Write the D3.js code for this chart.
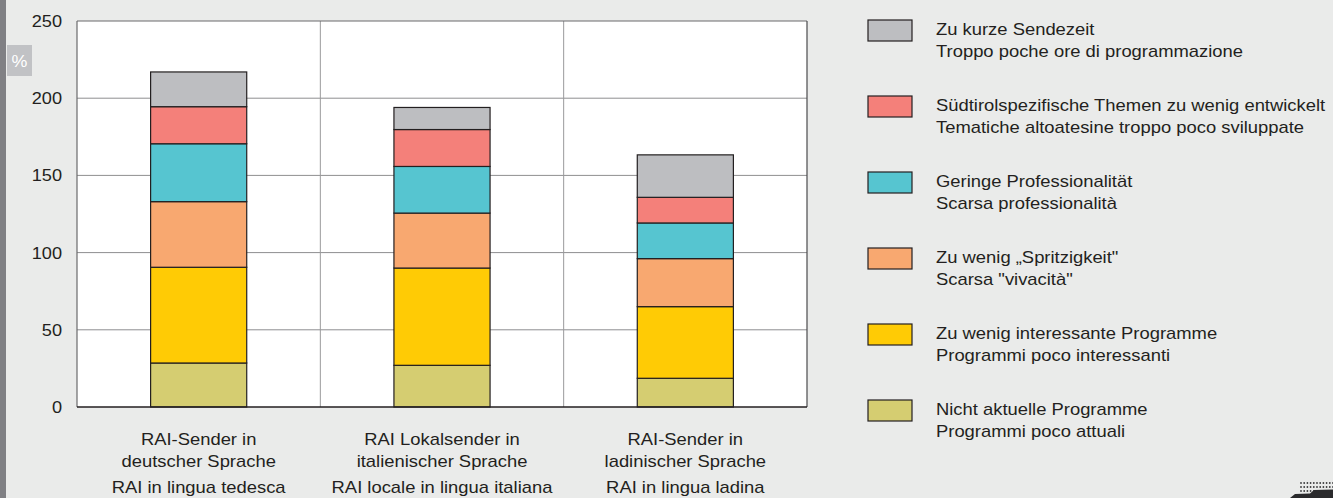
<!DOCTYPE html>
<html>
<head>
<meta charset="utf-8">
<script src="https://cdn.jsdelivr.net/npm/d3@7"></script>
<style>
  html, body { margin: 0; padding: 0; background: #eaebea; }
  svg { display: block; }
  text { font-family: "Liberation Sans", Arial, sans-serif; fill: #231f20; }
</style>
</head>
<body>
<svg id="chart" width="1333" height="498"></svg>
<script>
// ---- data ----
const categories = [
  ["RAI-Sender in", "deutscher Sprache", "RAI in lingua tedesca"],
  ["RAI Lokalsender in", "italienischer Sprache", "RAI locale in lingua italiana"],
  ["RAI-Sender in", "ladinischer Sprache", "RAI in lingua ladina"]
];
const seriesKeys = ["nichtAktuell", "uninteressant", "spritzigkeit", "professionalitaet", "suedtirol", "sendezeit"];
const nichtAktuell      = [28.5, 27.0, 18.6];
const uninteressant     = [62.0, 63.0, 46.4];
const spritzigkeit      = [42.5, 35.6, 31.1];
const professionalitaet = [37.5, 30.2, 23.1];
const suedtirol         = [24.0, 23.9, 16.6];
const sendezeit         = [22.5, 14.3, 27.5];
const seriesColors = ["#d5cd71", "#ffcb05", "#f8a870", "#56c5d0", "#f4807a", "#bdbec1"];
const legendLabels = [
  ["Zu kurze Sendezeit", "Troppo poche ore di programmazione"],
  ["Südtirolspezifische Themen zu wenig entwickelt", "Tematiche altoatesine troppo poco sviluppate"],
  ["Geringe Professionalität", "Scarsa professionalità"],
  ["Zu wenig \u201eSpritzigkeit\"", "Scarsa \"vivacità\""],
  ["Zu wenig interessante Programme", "Programmi poco interessanti"],
  ["Nicht aktuelle Programme", "Programmi poco attuali"]
];
const legendOrder = [5, 4, 3, 2, 1, 0]; // series index for each legend row
const yTicks = [0, 50, 100, 150, 200, 250];
const yUnit = "%";

const seriesValues = [nichtAktuell, uninteressant, spritzigkeit, professionalitaet, suedtirol, sendezeit];
const rows = categories.map((c, i) => {
  const r = { idx: i };
  seriesKeys.forEach((k, j) => r[k] = seriesValues[j][i]);
  return r;
});

// ---- layout ----
const svg = d3.select("#chart");
const plot = { left: 77, right: 807, top: 21, bottom: 407 };
const SX = 1.15;

const x = d3.scaleBand().domain(d3.range(categories.length)).range([plot.left, plot.right]).padding(0);
const y = d3.scaleLinear().domain([0, 250]).range([plot.bottom, plot.top]);

// left strip
svg.append("rect").attr("x", 0).attr("y", 0).attr("width", 6).attr("height", 498).attr("fill", "#808084");

// % box
svg.append("rect").attr("x", 7).attr("y", 45).attr("width", 25).attr("height", 31).attr("fill", "#c1c2c5");
svg.append("text").attr("transform", "translate(19.5,66.5) scale(1.05,1)").attr("text-anchor", "middle")
  .style("font-size", "17px").style("fill", "#ffffff").text(yUnit);

// plot background
svg.append("rect").attr("x", plot.left).attr("y", plot.top)
  .attr("width", plot.right - plot.left).attr("height", plot.bottom - plot.top).attr("fill", "#ffffff");

// horizontal gridlines
svg.append("g").selectAll("line").data(yTicks.filter(t => t > 0 && t < 250)).join("line")
  .attr("x1", plot.left).attr("x2", plot.right)
  .attr("y1", d => y(d)).attr("y2", d => y(d))
  .attr("stroke", "#8e8e90").attr("stroke-width", 1);

// vertical separators
svg.append("g").selectAll("line").data(d3.range(1, categories.length)).join("line")
  .attr("x1", d => x(d)).attr("x2", d => x(d))
  .attr("y1", plot.top).attr("y2", plot.bottom)
  .attr("stroke", "#9a9a9c").attr("stroke-width", 1);

// frame
svg.append("line").attr("x1", plot.left).attr("x2", plot.right).attr("y1", plot.top).attr("y2", plot.top)
  .attr("stroke", "#6a6a6c").attr("stroke-width", 1.2);
svg.append("line").attr("x1", plot.right).attr("x2", plot.right).attr("y1", plot.top).attr("y2", plot.bottom)
  .attr("stroke", "#4a4a4c").attr("stroke-width", 1.2);
svg.append("line").attr("x1", plot.left).attr("x2", plot.left).attr("y1", plot.top).attr("y2", plot.bottom)
  .attr("stroke", "#6a6a6c").attr("stroke-width", 1.2);

// stacked bars
const stack = d3.stack().keys(seriesKeys)(rows);
const barW = x.bandwidth() * 0.395;
svg.append("g").selectAll("g").data(stack).join("g")
  .attr("fill", (d, i) => seriesColors[i])
  .selectAll("rect").data(d => d).join("rect")
  .attr("x", d => x(d.data.idx) + (x.bandwidth() - barW) / 2)
  .attr("width", barW)
  .attr("y", d => y(d[1]))
  .attr("height", d => y(d[0]) - y(d[1]))
  .attr("stroke", "#231f20").attr("stroke-width", 1.2);

// bottom axis line
svg.append("line").attr("x1", plot.left).attr("x2", plot.right).attr("y1", plot.bottom).attr("y2", plot.bottom)
  .attr("stroke", "#231f20").attr("stroke-width", 1.5);

// y tick labels
svg.append("g").selectAll("text").data(yTicks).join("text")
  .attr("transform", d => `translate(62,${y(d) + 6}) scale(1.07,1)`)
  .attr("text-anchor", "end")
  .style("font-size", "17px")
  .text(d => d);

// x labels
const xl = svg.append("g").selectAll("g").data(categories).join("g")
  .attr("transform", (d, i) => `translate(${x(i) + x.bandwidth() / 2},0)`);
const xBase = [445, 467, 493];
xl.each(function(d) {
  const g = d3.select(this);
  d.forEach((t, k) => {
    g.append("text")
      .attr("transform", `translate(0,${xBase[k]}) scale(${SX},1)`)
      .attr("text-anchor", "middle")
      .style("font-size", "16px")
      .text(t);
  });
});

// legend
const lg = svg.append("g").selectAll("g").data(legendOrder).join("g")
  .attr("transform", (d, i) => `translate(868,${20 + i * 76})`);
lg.append("rect").attr("width", 44).attr("height", 21)
  .attr("fill", d => seriesColors[d]).attr("stroke", "#231f20").attr("stroke-width", 1.2);
lg.append("text").attr("transform", `translate(68,14.5) scale(${SX},1)`)
  .style("font-size", "16px").text((d, i) => legendLabels[i][0]);
lg.append("text").attr("transform", `translate(68,37) scale(${SX},1)`)
  .style("font-size", "16px").text((d, i) => legendLabels[i][1]);

// decorative dot pattern bottom-right
const dots = [];
for (let r = 0; r < 3; r++) for (let c = 0; c < 11; c++) dots.push([1301 + c * 3.2, 483 + r * 4]);
svg.append("g").selectAll("circle").data(dots).join("circle")
  .attr("cx", d => d[0]).attr("cy", d => d[1]).attr("r", 0.9).attr("fill", "#3a3a3c");
svg.append("path").attr("d", "M1290,498 L1295,494 L1310,493.5 L1314,490 L1333,489.5 L1333,498 Z").attr("fill", "#2a2a2c");
</script>
</body>
</html>
